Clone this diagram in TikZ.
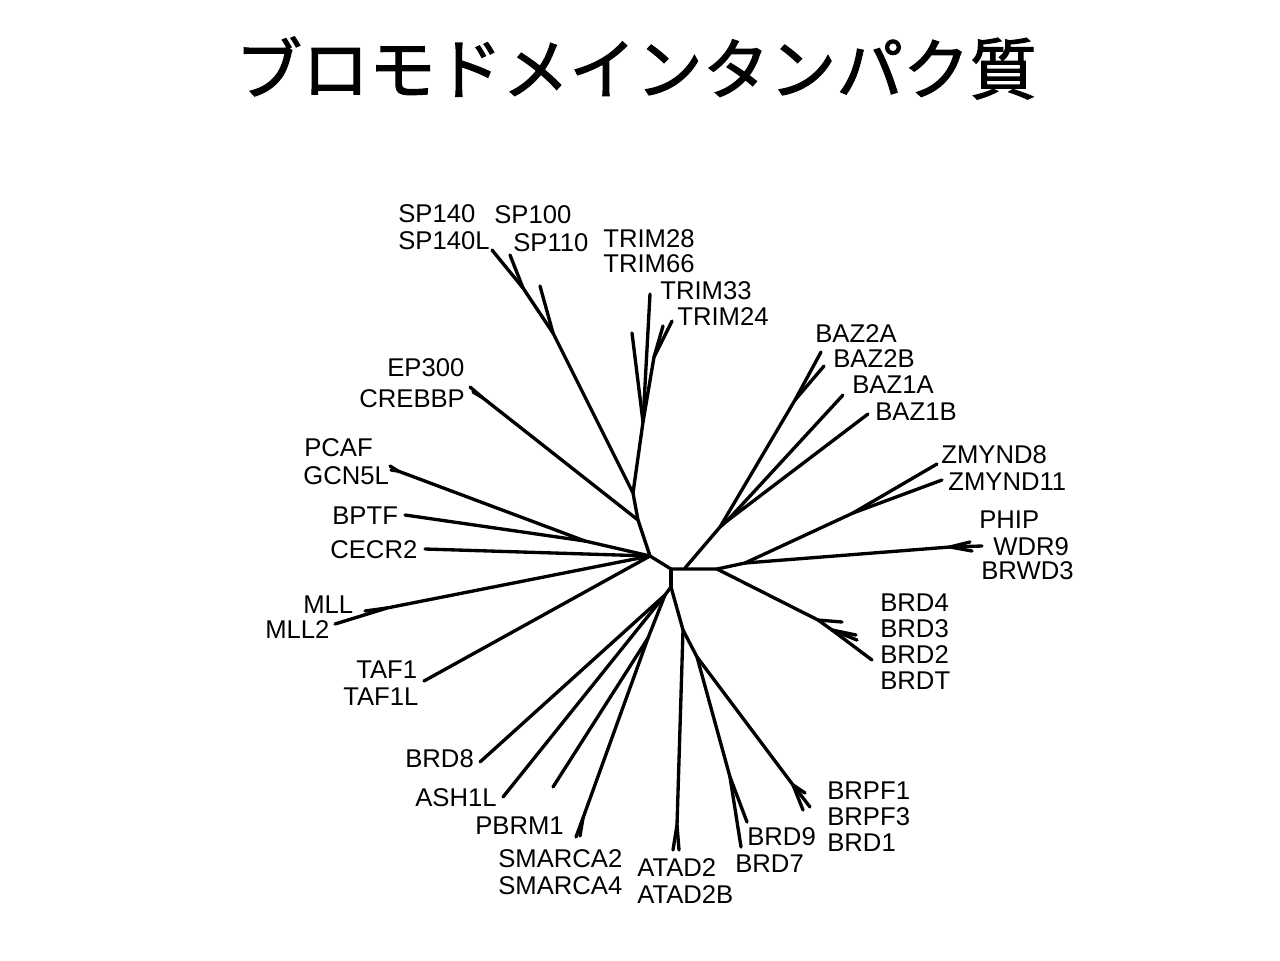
\documentclass[tikz,border=0pt]{standalone}
\usepackage{fontspec}
\setmainfont{Liberation Sans}
\newfontfamily\jpfont{Noto Sans CJK JP}[FakeBold=1.6]

\tikzset{
  branch/.style={line width=1.9pt, line cap=round, line join=round},
  leaf/.style={anchor=west, inner sep=0pt, font=\fontsize{14.6}{17}\selectfont},
}

\begin{document}
\begin{tikzpicture}[x=0.02cm, y=-0.02cm]
    \useasboundingbox (0,0) rectangle (1280,960);
    \node[font=\jpfont\fontsize{38}{45}\selectfont] (title) at (636,68) {ブロモドメインタンパク質};

    % inner nodes
    \coordinate (L) at (650,556);   \coordinate (C) at (671,569);
    \coordinate (D) at (671,587);   \coordinate (B) at (685,568);
    \coordinate (R) at (717,569);   \coordinate (up) at (638,520);
    \coordinate (top) at (633,493); \coordinate (sp1) at (553,333);
    \coordinate (sp2) at (523,288); \coordinate (trim) at (643,422);
    \coordinate (trimR) at (654,357); \coordinate (cb) at (483,398);
    \coordinate (gc) at (398,471);  \coordinate (gb) at (585,541);
    \coordinate (ml) at (387,608);  \coordinate (dg) at (665,595);
    \coordinate (ps) at (648,638);  \coordinate (sm) at (583,818);
    \coordinate (E) at (683,630);   \coordinate (at) at (677,825);
    \coordinate (F) at (697,657);   \coordinate (b97) at (730,777);
    \coordinate (bp) at (793,785);  \coordinate (b4) at (818,620);
    \coordinate (b3) at (832,630);  \coordinate (zm0) at (745,563);
    \coordinate (zm1) at (853,513); \coordinate (pw) at (950,547);
    \coordinate (bz) at (720,527);  \coordinate (bz1) at (727,521);
    \coordinate (bz2) at (795,400);

    % tips
    \coordinate (tSP140) at (492,250); \coordinate (tSP100) at (510,255);
    \coordinate (tSP110) at (540,286);
    \coordinate (tTRIM28) at (650,294); \coordinate (tTRIM66) at (632,333);
    \coordinate (tTRIM33) at (663,326); \coordinate (tTRIM24) at (672,321);
    \coordinate (tEP300) at (470,387); \coordinate (tCREBBP) at (473,392);
    \coordinate (tPCAF) at (390,466); \coordinate (tGCN5L) at (391,470);
    \coordinate (tBPTF) at (405,515); \coordinate (tCECR2) at (425,549);
    \coordinate (tMLL) at (365,611); \coordinate (tMLL2) at (335,624);
    \coordinate (tTAF1) at (424,681);
    \coordinate (tBRD8) at (480,762); \coordinate (tASH1L) at (503,797);
    \coordinate (tPBRM1) at (553,787);
    \coordinate (tSMARCA2) at (576,837); \coordinate (tSMARCA4) at (580,836);
    \coordinate (tATAD2) at (673,850); \coordinate (tATAD2B) at (679,850);
    \coordinate (tBRD9) at (747,822); \coordinate (tBRD7) at (741,847);
    \coordinate (tBRPF1) at (805,793); \coordinate (tBRPF3) at (810,807);
    \coordinate (tBRD1) at (803,810);
    \coordinate (tBRD4) at (842,622); \coordinate (tBRD3) at (856,635);
    \coordinate (tBRD2) at (857,640); \coordinate (tBRDT) at (872,660);
    \coordinate (tPHIP) at (970,542); \coordinate (tWDR9) at (982,546);
    \coordinate (tBRWD3) at (972,551);
    \coordinate (tZMYND8) at (937,464); \coordinate (tZMYND11) at (942,480);
    \coordinate (tBAZ2A) at (821,352); \coordinate (tBAZ2B) at (824,366);
    \coordinate (tBAZ1A) at (843,395); \coordinate (tBAZ1B) at (868,414);

    % branches
    \draw[branch] (L) -- (C) -- (R);
    \draw[branch] (C) -- (D);
    \draw[branch] (L) -- (up) -- (top) -- (sp1) -- (sp2) -- (tSP140);
    \draw[branch] (sp2) -- (tSP100);
    \draw[branch] (sp1) -- (tSP110);
    \draw[branch] (top) -- (trim) -- (tTRIM66);
    \draw[branch] (trim) -- (tTRIM28);
    \draw[branch] (trim) -- (trimR) -- (tTRIM33);
    \draw[branch] (trimR) -- (tTRIM24);
    \draw[branch] (up) -- (cb) -- (tEP300);
    \draw[branch] (cb) -- (tCREBBP);
    \draw[branch] (L) -- (gb) -- (gc) -- (tPCAF);
    \draw[branch] (gc) -- (tGCN5L);
    \draw[branch] (gb) -- (tBPTF);
    \draw[branch] (L) -- (tCECR2);
    \draw[branch] (L) -- (ml) -- (tMLL2);
    \draw[branch] (ml) -- (tMLL);
    \draw[branch] (L) -- (tTAF1);
    \draw[branch] (D) -- (dg) -- (tBRD8);
    \draw[branch] (dg) -- (tASH1L);
    \draw[branch] (dg) -- (ps) -- (tPBRM1);
    \draw[branch] (ps) -- (sm) -- (tSMARCA2);
    \draw[branch] (sm) -- (tSMARCA4);
    \draw[branch] (D) -- (E) -- (at) -- (tATAD2);
    \draw[branch] (at) -- (tATAD2B);
    \draw[branch] (E) -- (F) -- (b97) -- (tBRD9);
    \draw[branch] (b97) -- (tBRD7);
    \draw[branch] (F) -- (bp) -- (tBRPF1);
    \draw[branch] (bp) -- (tBRPF3);
    \draw[branch] (bp) -- (tBRD1);
    \draw[branch] (R) -- (b4) -- (tBRD4);
    \draw[branch] (b4) -- (b3) -- (tBRD3);
    \draw[branch] (b3) -- (tBRD2);
    \draw[branch] (b3) -- (tBRDT);
    \draw[branch] (R) -- (zm0) -- (pw) -- (tPHIP);
    \draw[branch] (pw) -- (tWDR9);
    \draw[branch] (pw) -- (tBRWD3);
    \draw[branch] (zm0) -- (zm1) -- (tZMYND8);
    \draw[branch] (zm1) -- (tZMYND11);
    \draw[branch] (B) -- (bz) -- (bz2) -- (tBAZ2A);
    \draw[branch] (bz2) -- (tBAZ2B);
    \draw[branch] (bz) -- (bz1) -- (tBAZ1A);
    \draw[branch] (bz1) -- (tBAZ1B);

    % labels
    \node[leaf] (SP140) at (398,214) {SP140};
    \node[leaf] (SP140L) at (398,241) {SP140L};
    \node[leaf] (SP100) at (494,215) {SP100};
    \node[leaf] (SP110) at (513,243) {SP110};
    \node[leaf] (TRIM28) at (603,239) {TRIM28};
    \node[leaf] (TRIM66) at (603,264) {TRIM66};
    \node[leaf] (TRIM33) at (660,291) {TRIM33};
    \node[leaf] (TRIM24) at (677,317) {TRIM24};
    \node[leaf] (BAZ2A) at (815,334) {BAZ2A};
    \node[leaf] (BAZ2B) at (833,359) {BAZ2B};
    \node[leaf] (BAZ1A) at (852,385) {BAZ1A};
    \node[leaf] (BAZ1B) at (875,412) {BAZ1B};
    \node[leaf] (EP300) at (387,368) {EP300};
    \node[leaf] (CREBBP) at (359,399) {CREBBP};
    \node[leaf] (PCAF) at (304,448) {PCAF};
    \node[leaf] (GCN5L) at (303,476) {GCN5L};
    \node[leaf] (BPTF) at (332,516) {BPTF};
    \node[leaf] (CECR2) at (330,550) {CECR2};
    \node[leaf] (MLL) at (303,605) {MLL};
    \node[leaf] (MLL2) at (265,630) {MLL2};
    \node[leaf] (TAF1) at (356,670) {TAF1};
    \node[leaf] (TAF1L) at (343,697) {TAF1L};
    \node[leaf] (BRD8) at (405,759) {BRD8};
    \node[leaf] (ASH1L) at (415,798) {ASH1L};
    \node[leaf] (PBRM1) at (475,826) {PBRM1};
    \node[leaf] (SMARCA2) at (498,859) {SMARCA2};
    \node[leaf] (SMARCA4) at (498,886) {SMARCA4};
    \node[leaf] (ATAD2) at (637,868) {ATAD2};
    \node[leaf] (ATAD2B) at (637,895) {ATAD2B};
    \node[leaf] (BRD9) at (747,837) {BRD9};
    \node[leaf] (BRD7) at (735,864) {BRD7};
    \node[leaf] (BRPF1) at (827,791) {BRPF1};
    \node[leaf] (BRPF3) at (827,817) {BRPF3};
    \node[leaf] (BRD1) at (827,843) {BRD1};
    \node[leaf] (BRD4) at (880,603) {BRD4};
    \node[leaf] (BRD3) at (880,629) {BRD3};
    \node[leaf] (BRD2) at (880,655) {BRD2};
    \node[leaf] (BRDT) at (880,681) {BRDT};
    \node[leaf] (ZMYND8) at (941,455) {ZMYND8};
    \node[leaf] (ZMYND11) at (948,482) {ZMYND11};
    \node[leaf] (PHIP) at (979,520) {PHIP};
    \node[leaf] (WDR9) at (993,547) {WDR9};
    \node[leaf] (BRWD3) at (981,571) {BRWD3};
\end{tikzpicture}
\end{document}
